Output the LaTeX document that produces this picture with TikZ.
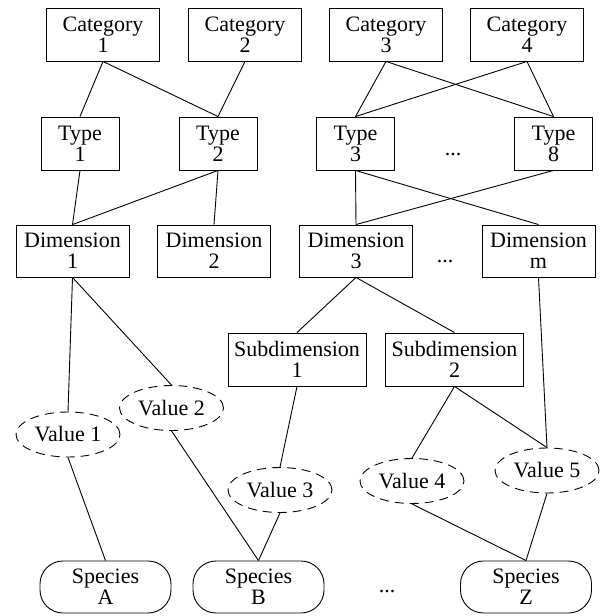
\documentclass[tikz,border=0pt]{standalone}
\usepackage{fontspec}
\setmainfont{Liberation Serif}
\usetikzlibrary{shapes.geometric}
\begin{document}
\begin{tikzpicture}[x=1pt,y=-1pt,
  every node/.style={font=\fontsize{22}{21}\selectfont, align=center, inner sep=0pt},
  box/.style={draw, rectangle, line width=0.9pt, minimum height=53pt},
  catbox/.style={box, minimum width=113pt},
  typebox/.style={box, minimum width=78pt},
  dimbox/.style={box, minimum width=113pt, minimum height=52pt},
  subbox/.style={box, minimum width=138pt},
  valnode/.style={draw, ellipse, dash pattern=on 9pt off 6pt, line width=0.9pt, minimum width=104pt, minimum height=45pt},
  spnode/.style={draw, rectangle, rounded corners=23pt, line width=0.9pt, minimum width=131pt, minimum height=52pt},
  link/.style={line width=0.9pt},
  dotsnode/.style={anchor=base}
]
\useasboundingbox (0,0) rectangle (605,616);

\node[catbox] (c1) at (103,34.5) {Category\\1};
\node[catbox] (c2) at (245,34.5) {Category\\2};
\node[catbox] (c3) at (386,34.5) {Category\\3};
\node[catbox] (c4) at (527,34.5) {Category\\4};

\node[typebox] (t1) at (80,143.5) {Type\\1};
\node[typebox] (t2) at (218,143.5) {Type\\2};
\node[typebox] (t3) at (355.5,143.5) {Type\\3};
\node[typebox] (t8) at (553.5,143.5) {Type\\8};
\node[dotsnode] (td) at (453,155) {...};

\node[dimbox] (d1) at (72.5,251) {Dimension\\1};
\node[dimbox] (d2) at (214,251) {Dimension\\2};
\node[dimbox] (d3) at (356,251) {Dimension\\3};
\node[dimbox] (dm) at (538.5,251) {Dimension\\m};
\node[dotsnode] (dd) at (445,262) {...};

\node[subbox] (s1) at (297,359.5) {Subdimension\\1};
\node[subbox] (s2) at (454.5,359.5) {Subdimension\\2};

\node[valnode] (v1) at (68,434.5) {Value 1};
\node[valnode] (v2) at (171.5,408) {Value 2};
\node[valnode] (v3) at (280,490) {Value 3};
\node[valnode] (v4) at (412,481) {Value 4};
\node[valnode] (v5) at (547,470.5) {Value 5};

\node[spnode] (sa) at (105.5,587) {Species\\A};
\node[spnode] (sb) at (258.5,587) {Species\\B};
\node[spnode] (sz) at (526,587) {Species\\Z};
\node[dotsnode] (sd) at (387,592) {...};

\draw[link] (c1.south) -- (t1.north);
\draw[link] (c1.south) -- (t2.north);
\draw[link] (c2.south) -- (t2.north);
\draw[link] (c3.south) -- (t3.north);
\draw[link] (c3.south) -- (t8.north);
\draw[link] (c4.south) -- (t3.north);
\draw[link] (c4.south) -- (t8.north);

\draw[link] (t1.south) -- (d1.north);
\draw[link] (t2.south) -- (d1.north);
\draw[link] (t2.south) -- (d2.north);
\draw[link] (t3.south) -- (d3.north);
\draw[link] (t3.south) -- (dm.north);
\draw[link] (t8.south) -- (d3.north);

\draw[link] (d1.south) -- (v1.north);
\draw[link] (d1.south) -- (v2.north);
\draw[link] (d3.south) -- (s1.north);
\draw[link] (d3.south) -- (s2.north);
\draw[link] (dm.south) -- (v5.north);

\draw[link] (s1.south) -- (v3.north);
\draw[link] (s2.south) -- (v4.north);
\draw[link] (s2.south) -- (v5.north);

\draw[link] (v1.south) -- (sa.north);
\draw[link] (v2.south) -- (sb.north);
\draw[link] (v3.south) -- (sb.north);
\draw[link] (v4.south) -- (sz.north);
\draw[link] (v5.south) -- (sz.north);
\end{tikzpicture}
\end{document}
